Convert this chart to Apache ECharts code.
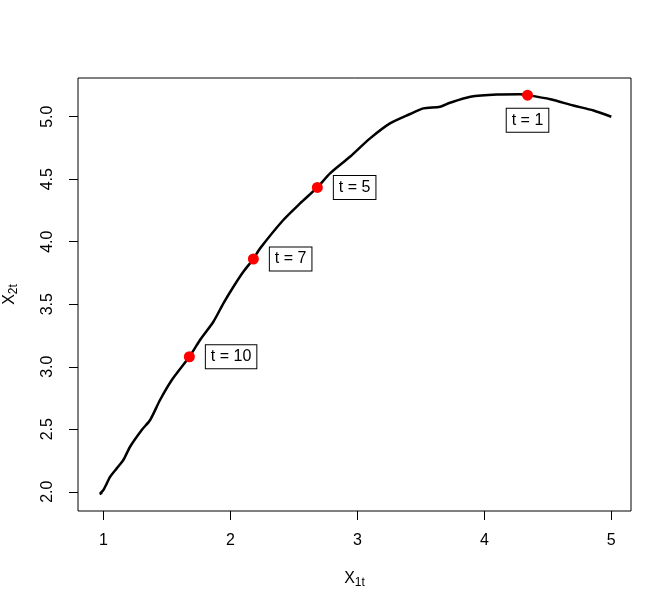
<!DOCTYPE html>
<html>
<head>
<meta charset="utf-8">
<script src="https://cdn.jsdelivr.net/npm/echarts@6/dist/echarts.min.js"></script>
<style>html,body{margin:0;padding:0;background:#fff}#c{width:672px;height:609px}</style>
</head>
<body>
<div id="c"></div>
<script>
// Path of (X1t, X2t)
const pathX1 = [0.97, 0.99, 0.974, 1.000, 1.027, 1.053, 1.105, 1.157, 1.210, 1.302, 1.368, 1.446, 1.539, 1.677, 1.761, 1.866, 1.945, 2.024, 2.102, 2.181, 2.234, 2.417, 2.549, 2.685, 2.785, 2.942, 3.100, 3.257, 3.415, 3.520, 3.651, 3.730, 3.890, 4.100, 4.280, 4.340, 4.520, 4.700, 4.860, 5.000];
const pathX2 = [1.98, 1.99, 1.987, 2.014, 2.067, 2.120, 2.187, 2.254, 2.360, 2.494, 2.574, 2.734, 2.894, 3.080, 3.214, 3.360, 3.507, 3.640, 3.760, 3.862, 3.947, 4.174, 4.307, 4.435, 4.547, 4.680, 4.827, 4.947, 5.022, 5.067, 5.080, 5.112, 5.160, 5.178, 5.180, 5.173, 5.140, 5.090, 5.050, 5.000];
// Marked time points
const markX1 = [4.340, 2.685, 2.181, 1.677];
const markX2 = [5.173, 4.435, 3.862, 3.080];
const markLabels = ['t = 1', 't = 5', 't = 7', 't = 10'];
const markPos = ['bottom', 'right', 'right', 'right'];
// Ticks
const xTicks = [1, 2, 3, 4, 5];
const yTicks = [2.0, 2.5, 3.0, 3.5, 4.0, 4.5, 5.0];

const font = 'Liberation Sans, Arial, sans-serif';
const chart = echarts.init(document.getElementById('c'), null, {renderer: 'canvas'});
const lineData = pathX1.map((x, i) => [x, pathX2[i]]);
const markData = markX1.map((x, i) => ({
  value: [x, markX2[i]],
  label: {
    show: true,
    formatter: markLabels[i],
    position: markPos[i],
    distance: markPos[i] === 'bottom' ? 8 : 11
  }
}));

chart.setOption({
  animation: false,
  backgroundColor: '#fff',
  grid: {left: 78, right: 41, top: 78, bottom: 98, containLabel: false, outerBoundsMode: 'none',
    show: true, borderColor: '#000', borderWidth: 1, backgroundColor: 'transparent'},
  xAxis: {
    type: 'value', min: 0.8, max: 5.155,
    splitLine: {show: false},
    axisLine: {show: false},
    axisTick: {show: true, length: 9, lineStyle: {color: '#000', width: 1}, customValues: xTicks},
    axisLabel: {show: true, customValues: xTicks, color: '#000', fontSize: 16, fontFamily: font, margin: 22},
    name: '{a|X}{b|1t}',
    nameLocation: 'middle', nameGap: 57,
    nameTextStyle: {color: '#000', fontFamily: font, rich: {
      a: {fontSize: 16, fontFamily: font, color: '#000'},
      b: {fontSize: 12, fontFamily: font, color: '#000', padding: [9, 0, 0, 0]}
    }}
  },
  yAxis: {
    type: 'value', min: 1.846, max: 5.31,
    splitLine: {show: false},
    axisLine: {show: false},
    axisTick: {show: true, length: 9, lineStyle: {color: '#000', width: 1}, customValues: yTicks},
    axisLabel: {show: true, customValues: yTicks, rotate: 90, color: '#000', fontSize: 16, fontFamily: font, margin: 22,
      formatter: v => v.toFixed(1)},
    name: '{a|X}{b|2t}',
    nameLocation: 'middle', nameGap: 58,
    nameTextStyle: {color: '#000', fontFamily: font, rich: {
      a: {fontSize: 16, fontFamily: font, color: '#000'},
      b: {fontSize: 12, fontFamily: font, color: '#000', padding: [9, 0, 0, 0]}
    }}
  },
  series: [
    {
      type: 'line', data: lineData, showSymbol: false, symbol: 'none', smooth: 0.25,
      lineStyle: {color: '#000', width: 2.5}, z: 2
    },
    {
      type: 'scatter', data: markData, symbol: 'circle', symbolSize: 11,
      itemStyle: {color: '#ff0000', opacity: 1}, z: 3,
      label: {
        color: '#000', fontSize: 16, fontFamily: font,
        backgroundColor: '#fff', borderColor: '#000', borderWidth: 1,
        padding: [4, 5, 3, 5]
      }
    }
  ]
});
</script>
</body>
</html>
